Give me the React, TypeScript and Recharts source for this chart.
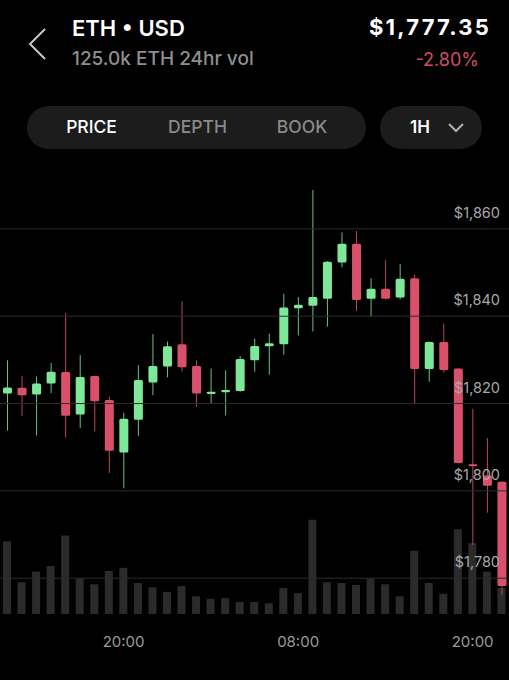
import React from "react";
import { ComposedChart, Bar, XAxis, YAxis, ReferenceLine } from "recharts";

const W = 509;
const GREEN = "#7ee89a";
const RED = "#d9506b";
const GREEN_WICK = "#68c082";
const RED_WICK = "#b8485e";
const FONT = "Inter, 'Noto Sans', sans-serif";

// hourly candles, 12:00 -> 22:00 next day
const hours = [
  "12:00", "13:00", "14:00", "15:00", "16:00", "17:00", "18:00", "19:00", "20:00", "21:00", "22:00", "23:00",
  "00:00", "01:00", "02:00", "03:00", "04:00", "05:00", "06:00", "07:00", "08:00", "09:00", "10:00", "11:00",
  "12:00", "13:00", "14:00", "15:00", "16:00", "17:00", "18:00", "19:00", "20:00", "21:00", "22:00",
];
const opens = [
  1822.3, 1823.6, 1822.1, 1824.6, 1827.2, 1817.5, 1826.3, 1820.8, 1808.8, 1816.3, 1824.8, 1828.5,
  1833.6, 1828.6, 1822.2, 1822.6, 1822.9, 1829.9, 1833.1, 1833.6, 1841.8, 1842.4, 1844.0, 1852.3,
  1856.6, 1844.0, 1846.3, 1844.3, 1848.7, 1827.9, 1834.1, 1828.0, 1806.1, 1803.5, 1802.1,
];
const closes = [
  1823.7, 1821.9, 1824.6, 1827.3, 1817.2, 1826.1, 1820.5, 1809.2, 1816.5, 1825.4, 1828.6, 1833.1,
  1828.3, 1822.3, 1822.7, 1823.1, 1830.2, 1833.2, 1833.8, 1842.0, 1842.6, 1844.4, 1852.5, 1856.6,
  1843.7, 1846.3, 1844.0, 1848.6, 1827.9, 1834.1, 1827.7, 1806.4, 1805.7, 1801.2, 1778.2,
];
const highs = [
  1829.9, 1826.3, 1826.2, 1829.3, 1840.7, 1831.1, 1826.4, 1821.6, 1817.9, 1828.8, 1835.9, 1834.2,
  1843.4, 1829.9, 1828.0, 1827.6, 1830.9, 1834.9, 1836.0, 1845.1, 1844.4, 1868.9, 1852.6, 1859.2,
  1859.5, 1848.7, 1852.9, 1852.0, 1849.5, 1834.2, 1838.3, 1828.1, 1818.8, 1812.1, 1802.2,
];
const lows = [
  1813.8, 1817.2, 1812.7, 1822.4, 1812.3, 1814.4, 1813.6, 1804.1, 1800.6, 1812.6, 1821.9, 1826.0,
  1827.3, 1819.2, 1819.9, 1817.3, 1822.7, 1827.3, 1826.6, 1831.2, 1835.6, 1836.5, 1837.6, 1851.2,
  1841.2, 1839.9, 1843.8, 1843.9, 1819.9, 1825.0, 1827.1, 1806.3, 1787.6, 1795.0, 1776.2,
];
// volume in thousands of ETH
const volumes = [
  11.5, 5.0, 6.7, 7.6, 12.4, 5.6, 4.7, 6.8, 7.3, 4.9, 4.2, 3.5,
  4.4, 2.8, 2.4, 2.5, 1.9, 1.9, 1.7, 4.1, 3.3, 14.9, 5.0, 4.9,
  4.6, 5.6, 4.7, 2.8, 10.0, 4.9, 3.2, 13.4, 11.2, 6.7, 4.1,
];
const priceTicks = [1780, 1800, 1820, 1840, 1860];
const timeTicks = [8, 20, 32];

const data = hours.map((h, i) => ({
  key: i,
  hour: h,
  open: opens[i],
  close: closes[i],
  high: highs[i],
  low: lows[i],
  range: [lows[i], highs[i]],
  volume: volumes[i],
}));

const Candle = (props: any) => {
  const { x, y, width, height, payload } = props;
  const { open, close, high, low } = payload;
  const top0 = Math.min(y, y + height);
  const h = Math.abs(height);
  const k = h / (high - low);
  const py = (p: number) => top0 + (high - p) * k;
  const up = close >= open;
  const cx = x + width / 2;
  const bTop = py(Math.max(open, close));
  const bBot = py(Math.min(open, close));
  const bh = Math.max(bBot - bTop, 2);
  return (
    <g>
      <line x1={cx} x2={cx} y1={top0} y2={top0 + h} stroke={up ? GREEN_WICK : RED_WICK} strokeWidth={1} />
      <rect x={x} y={bTop} width={width} height={bh} rx={1.5} fill={up ? GREEN : RED} />
    </g>
  );
};

// price label drawn above its grid line, on top of the candles
const PriceLabel = ({ viewBox, value }: any) => (
  <text
    x={viewBox.x + viewBox.width - 9}
    y={viewBox.y - 11}
    textAnchor="end"
    fill="#a8a8a8"
    fontSize={14.5}
    fontFamily={FONT}
  >
    {"$" + value.toLocaleString("en-US")}
  </text>
);

const TimeTick = ({ x, y, payload }: any) => (
  <text x={x} y={y + 25} textAnchor="middle" fill="#9b9b9b" fontSize={15} fontFamily={FONT}>
    {hours[payload.value]}
  </text>
);

const Header = () => (
  <svg width={W} height={160} style={{ position: "absolute", left: 0, top: 0 }}>
    <polyline points="45,29 30,44 45,59" fill="none" stroke="#c8c8c8" strokeWidth={2} />
    <text x={72} y={36} fill="#fff" fontSize={22} fontWeight={600} fontFamily={FONT}>ETH • USD</text>
    <text x={72} y={65} fill="#8f8f8f" fontSize={19} fontWeight={500} fontFamily={FONT}>125.0k ETH 24hr vol</text>
    <text x={491} y={35} fill="#fff" fontSize={22} fontWeight={700} letterSpacing={2.2} textAnchor="end" fontFamily={FONT}>$1,777.35</text>
    <text x={479} y={66} fill="#cf4d66" fontSize={18} textAnchor="end" fontFamily={FONT}>-2.80%</text>
    <rect x={27} y={106} width={339} height={43} rx={21.5} fill="#1c1c1c" />
    <text x={91.5} y={133} fill="#fff" fontSize={17.5} fontWeight={500} textAnchor="middle" fontFamily={FONT}>PRICE</text>
    <text x={197.5} y={133} fill="#8a8a8a" fontSize={17.5} fontWeight={500} textAnchor="middle" fontFamily={FONT}>DEPTH</text>
    <text x={302} y={133} fill="#8a8a8a" fontSize={17.5} fontWeight={500} textAnchor="middle" fontFamily={FONT}>BOOK</text>
    <rect x={380} y={106} width={102} height={43} rx={21.5} fill="#1c1c1c" />
    <text x={410} y={133} fill="#fff" fontSize={17} fontWeight={600} fontFamily={FONT}>1H</text>
    <polyline points="449,124 456,131 463,124" fill="none" stroke="#b0b0b0" strokeWidth={2} />
  </svg>
);

export default function App() {
  return (
    <div style={{ position: "absolute", left: 0, top: 0, width: W, height: 680, background: "#000", overflow: "hidden" }}>
      <Header />
      <div style={{ position: "absolute", left: 0, top: 160 }}>
        <ComposedChart width={W} height={520} data={data} margin={{ top: 20, right: 0, bottom: 0, left: 0 }}>
          <XAxis xAxisId="v" dataKey="key" hide />
          <XAxis
            xAxisId="p"
            dataKey="key"
            height={66}
            ticks={timeTicks}
            interval={0}
            axisLine={false}
            tickLine={false}
            tick={<TimeTick />}
          />
          <YAxis yAxisId="vol" hide domain={[0, 68.6]} />
          <YAxis
            yAxisId="price"
            orientation="right"
            mirror
            width={60}
            domain={[1771.8, 1871.2]}
            ticks={priceTicks}
            allowDataOverflow
            axisLine={false}
            tickLine={false}
            tick={false}
          />
          {priceTicks.map((p) => (
            <ReferenceLine key={"g" + p} xAxisId="p" yAxisId="price" y={p} stroke="#2c2c2c" strokeWidth={1} />
          ))}
          <Bar xAxisId="v" yAxisId="vol" dataKey="volume" barSize={8} fill="#2b2b2b" isAnimationActive={false} />
          <Bar xAxisId="p" yAxisId="price" dataKey="range" barSize={9} shape={<Candle />} isAnimationActive={false} />
          {priceTicks.map((p) => (
            <ReferenceLine
              key={"l" + p}
              xAxisId="p"
              yAxisId="price"
              y={p}
              stroke="none"
              label={<PriceLabel value={p} />}
            />
          ))}
        </ComposedChart>
      </div>
    </div>
  );
}
